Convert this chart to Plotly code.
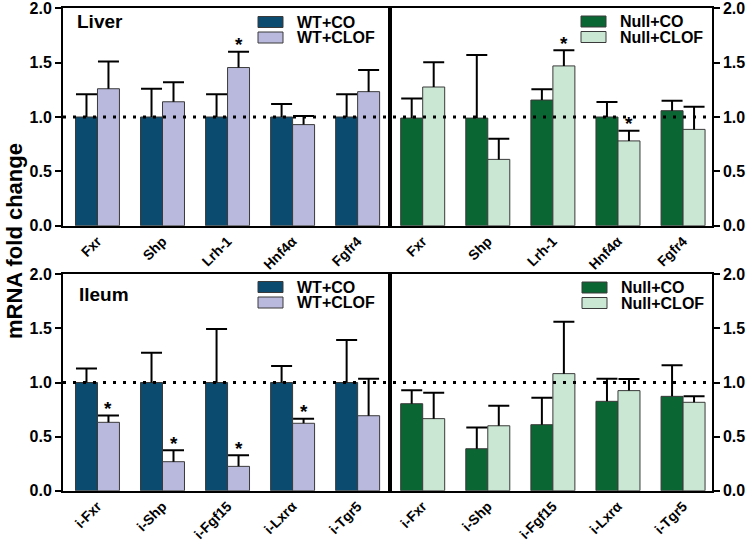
import plotly.graph_objects as go

# ---------------- data ----------------
liver_genes = ["Fxr", "Shp", "Lrh-1", "Hnf4α", "Fgfr4"]
ileum_genes = ["i-Fxr", "i-Shp", "i-Fgf15", "i-Lxrα", "i-Tgr5"]

liver_wt_co = [1.0, 1.0, 1.0, 1.0, 1.0]
liver_wt_co_err = [0.21, 0.26, 0.21, 0.12, 0.21]
liver_wt_clof = [1.26, 1.14, 1.455, 0.93, 1.233]
liver_wt_clof_err = [0.25, 0.18, 0.145, 0.08, 0.20]
liver_wt_sig = [False, False, True, False, False]

liver_null_co = [0.99, 0.99, 1.156, 1.0, 1.058]
liver_null_co_err = [0.18, 0.58, 0.10, 0.138, 0.092]
liver_null_clof = [1.276, 0.61, 1.47, 0.78, 0.886]
liver_null_clof_err = [0.227, 0.19, 0.143, 0.094, 0.209]
liver_null_sig = [False, False, True, True, False]

ileum_wt_co = [1.0, 1.0, 1.0, 1.0, 1.0]
ileum_wt_co_err = [0.13, 0.276, 0.495, 0.153, 0.393]
ileum_wt_clof = [0.632, 0.268, 0.225, 0.623, 0.693]
ileum_wt_clof_err = [0.064, 0.105, 0.102, 0.043, 0.342]
ileum_wt_sig = [True, True, True, True, False]

ileum_null_co = [0.804, 0.388, 0.61, 0.826, 0.872]
ileum_null_co_err = [0.124, 0.197, 0.25, 0.209, 0.287]
ileum_null_clof = [0.666, 0.60, 1.082, 0.925, 0.817]
ileum_null_clof_err = [0.24, 0.186, 0.48, 0.107, 0.055]
ileum_null_sig = [False, False, False, False, False]

y_ticks = [0.0, 0.5, 1.0, 1.5, 2.0]

# ---------------- style ----------------
W, H = 750, 540
FONT = "Liberation Sans"
C_WT_CO = "#0b4b6f"
C_WT_CLOF = "#b9b9de"
C_NULL_CO = "#0a6633"
C_NULL_CLOF = "#c9e7d3"
BAR_W = 0.338


def px(x):
    """pixel x -> paper fraction"""
    return x / W


def py(y):
    """pixel y (from top) -> paper fraction"""
    return 1 - y / H


fig = go.Figure()

panels = [
    ("", liver_genes, liver_wt_co, liver_wt_co_err, liver_wt_clof, liver_wt_clof_err,
     liver_wt_sig, (C_WT_CO, C_WT_CLOF), ("WT+CO", "WT+CLOF")),
    ("2", liver_genes, liver_null_co, liver_null_co_err, liver_null_clof, liver_null_clof_err,
     liver_null_sig, (C_NULL_CO, C_NULL_CLOF), ("Null+CO", "Null+CLOF")),
    ("3", ileum_genes, ileum_wt_co, ileum_wt_co_err, ileum_wt_clof, ileum_wt_clof_err,
     ileum_wt_sig, (C_WT_CO, C_WT_CLOF), ("WT+CO", "WT+CLOF")),
    ("4", ileum_genes, ileum_null_co, ileum_null_co_err, ileum_null_clof, ileum_null_clof_err,
     ileum_null_sig, (C_NULL_CO, C_NULL_CLOF), ("Null+CO", "Null+CLOF")),
]

annotations = []
shapes = []

for suf, genes, co, co_err, clof, clof_err, sig, cols, names in panels:
    xa, ya = "x" + suf, "y" + suf
    idx = list(range(len(genes)))
    for k, (vals, errs, col, name) in enumerate(
            [(co, co_err, cols[0], names[0]), (clof, clof_err, cols[1], names[1])]):
        off = (k - 0.5) * BAR_W
        xs = [i + off for i in idx]
        fig.add_trace(go.Bar(
            x=xs, y=vals, width=BAR_W, name=name, xaxis=xa, yaxis=ya,
            marker=dict(color=col, line=dict(color="#3a3a3a", width=1)),
            showlegend=False, hoverinfo="y"))
        tops = [v + e for v, e in zip(vals, errs)]
        fig.add_trace(go.Scatter(
            x=xs, y=tops, mode="markers", xaxis=xa, yaxis=ya,
            marker=dict(symbol="line-ew", size=15, color="black",
                        line=dict(color="black", width=2)),
            error_y=dict(type="data", symmetric=False, array=[0] * len(errs),
                         arrayminus=errs, color="black", thickness=2, width=0),
            showlegend=False, hoverinfo="skip"))
    for i in idx:
        if sig[i]:
            annotations.append(dict(
                x=i + 0.5 * BAR_W, y=clof[i] + clof_err[i], xref=xa, yref=ya,
                text="*", showarrow=False, yanchor="middle", yshift=7,
                font=dict(family=FONT, size=19, color="black", weight="bold")))

# ---------------- axes ----------------
LEFT_X = (63, 389.5)
RIGHT_X = (389.5, 711.7)
TOP_Y = (8.3, 225.7)
BOT_Y = (274.3, 490.7)

tickfont = dict(family=FONT, size=16, color="black", weight="bold")
xtickfont = dict(family=FONT, size=14, color="black", weight="bold")


def xaxis(dom, rng, genes, anchor):
    return dict(domain=[px(dom[0]), px(dom[1])], range=rng, anchor=anchor,
                tickmode="array", tickvals=list(range(len(genes))), ticktext=genes,
                tickangle=-45, ticks="", showline=True, linecolor="black",
                linewidth=2, mirror=True, showgrid=False, zeroline=False,
                tickfont=xtickfont, ticklabeloverflow="allow")


def yaxis(dom, side, anchor):
    return dict(domain=[py(dom[1]), py(dom[0])], range=[0, 2], anchor=anchor, side=side,
                tickmode="array", tickvals=y_ticks, tickformat=".1f", ticks="outside",
                ticklen=6, tickwidth=2, tickcolor="black", showline=True,
                linecolor="black", linewidth=2, mirror=True, showgrid=False,
                zeroline=False, tickfont=tickfont, ticklabeloverflow="allow")


L_RANGE = [-0.53, 4.49]
R_RANGE = [-0.51, 4.44]

fig.update_layout(
    xaxis=xaxis(LEFT_X, L_RANGE, liver_genes, "y"),
    yaxis=yaxis(TOP_Y, "left", "x"),
    xaxis2=xaxis(RIGHT_X, R_RANGE, liver_genes, "y2"),
    yaxis2=yaxis(TOP_Y, "right", "x2"),
    xaxis3=xaxis(LEFT_X, L_RANGE, ileum_genes, "y3"),
    yaxis3=yaxis(BOT_Y, "left", "x3"),
    xaxis4=xaxis(RIGHT_X, R_RANGE, ileum_genes, "y4"),
    yaxis4=yaxis(BOT_Y, "right", "x4"),
)

# dotted reference line at 1.0 spanning both panels
for yref in ("y", "y3"):
    shapes.append(dict(type="line", xref="paper", yref=yref, x0=px(63), x1=px(711.7),
                       y0=1, y1=1, layer="above",
                       line=dict(color="black", width=3, dash="3px,7px")))

# panel titles
for text, x, y in (("Liver", 75, 21.7), ("Ileum", 77, 294)):
    annotations.append(dict(text=text, x=px(x), y=py(y), xref="paper", yref="paper",
                            xanchor="left", yanchor="middle", showarrow=False,
                            font=dict(family=FONT, size=19, color="black", weight="bold")))

# legends (drawn by hand for the wide swatches)
legend_specs = [
    (258, 16.5, (C_WT_CO, C_WT_CLOF), ("WT+CO", "WT+CLOF")),
    (581, 16.0, (C_NULL_CO, C_NULL_CLOF), ("Null+CO", "Null+CLOF")),
    (258, 281.5, (C_WT_CO, C_WT_CLOF), ("WT+CO", "WT+CLOF")),
    (582, 282.0, (C_NULL_CO, C_NULL_CLOF), ("Null+CO", "Null+CLOF")),
]
for lx, ly, cols, names in legend_specs:
    for r in range(2):
        y0 = ly + r * 15.5
        shapes.append(dict(type="rect", xref="paper", yref="paper",
                           x0=px(lx), x1=px(lx + 25), y0=py(y0 + 11), y1=py(y0),
                           fillcolor=cols[r], line=dict(color="#3a3a3a", width=1)))
        annotations.append(dict(text=names[r], x=px(lx + 37), y=py(y0 + 5.5),
                                xref="paper", yref="paper", xanchor="left",
                                yanchor="middle", showarrow=False,
                                font=dict(family=FONT, size=16, color="black",
                                          weight="bold")))

# y-axis title
annotations.append(dict(text="mRNA fold change", x=px(14), y=py(241), xref="paper",
                        yref="paper", textangle=-90, showarrow=False,
                        xanchor="center", yanchor="middle",
                        font=dict(family=FONT, size=22, color="black", weight="bold")))

fig.update_layout(
    width=W, height=H, margin=dict(l=0, r=0, t=0, b=0, autoexpand=False),
    paper_bgcolor="white", plot_bgcolor="white",
    barmode="overlay", showlegend=False,
    annotations=annotations, shapes=shapes,
    font=dict(family=FONT, color="black"),
)

# let the 750x540 figure fill the window exactly (remove the page's default body margin)
fig.write_html("out.html", config={"displayModeBar": False},
               post_script="document.body.style.margin='0';")
